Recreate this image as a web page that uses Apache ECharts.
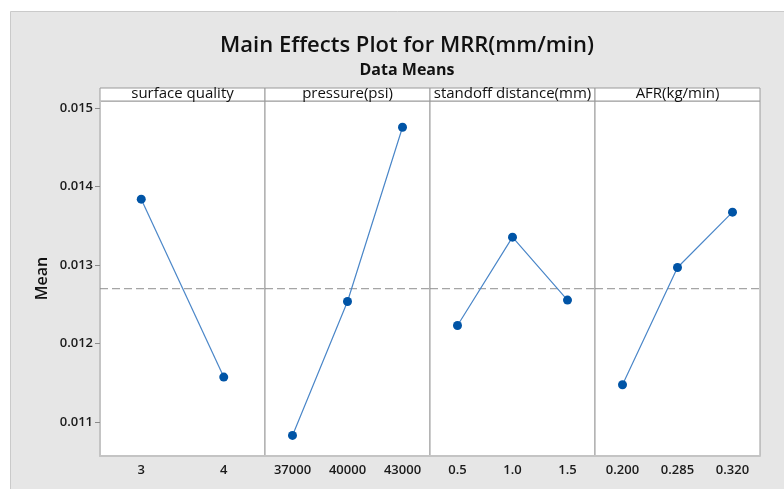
<!DOCTYPE html>
<html>
<head>
<meta charset="utf-8">
<title>Main Effects Plot for MRR(mm/min)</title>
<script src="https://cdn.jsdelivr.net/npm/echarts@6/dist/echarts.min.js"></script>
<style>
  html, body { margin: 0; padding: 0; background: #fff; }
  #chart { width: 784px; height: 489px; }
</style>
</head>
<body>
<div id="chart"></div>
<script>
  // factor names (panel headers)
  var factors = ['surface quality', 'pressure(psi)', 'standoff distance(mm)', 'AFR(kg/min)'];

  // levels of each factor
  var surfaceLevels = ['3', '4'];
  var pressureLevels = ['37000', '40000', '43000'];
  var standoffLevels = ['0.5', '1.0', '1.5'];
  var afrLevels = ['0.200', '0.285', '0.320'];

  // mean MRR at each level
  var surfaceMeans = [0.01384, 0.011575];
  var pressureMeans = [0.010833, 0.012537, 0.014755];
  var standoffMeans = [0.012232, 0.013356, 0.012555];
  var afrMeans = [0.011478, 0.01297, 0.013674];

  var grandMean = 0.0127;
  var yTicks = [0.011, 0.012, 0.013, 0.014, 0.015];
  var yMin = 0.010571;
  var yMax = 0.015089;

  var levels = [surfaceLevels, pressureLevels, standoffLevels, afrLevels];
  var means = [surfaceMeans, pressureMeans, standoffMeans, afrMeans];

  var font = 'Open Sans';
  var panelLeft = 100;
  var panelW = 165;
  var plotTop = 101;
  var headerH = 13;
  var plotBottom = 33;

  var grids = [], xAxes = [], yAxes = [], series = [], graphics = [];
  var refAxes = [], refSeries = [];

  // grey frame round the whole graph
  graphics.push({
    type: 'rect',
    shape: { x: 10.5, y: 11.5, width: 790, height: 490 },
    style: { fill: '#e6e6e6', stroke: '#cacaca', lineWidth: 1 },
    silent: true, z: -10
  });

  factors.forEach(function(name, i){
    var left = panelLeft + i * panelW;
    grids.push({
      left: left, top: plotTop, width: panelW, bottom: plotBottom,
      show: true, backgroundColor: '#fff',
      borderColor: '#9a9a9a', borderWidth: 1
    });
    xAxes.push({
      type: 'category', gridIndex: i,
      data: levels[i],
      boundaryGap: true,
      axisLine: { lineStyle: { color: '#c4c4c4', width: 2 } },
      axisTick: { alignWithLabel: true, length: 5, lineStyle: { color: '#8a8a8a' } },
      axisLabel: { color: '#1a1a1a', fontFamily: font, fontSize: 13, fontWeight: 600, margin: 8 },
      splitLine: { show: false }
    });
    // hidden 0..1 axis, only used to run the grand mean line across the panel
    refAxes.push({
      type: 'value', gridIndex: i, min: 0, max: 1, show: false
    });
    yAxes.push({
      type: 'value', gridIndex: i,
      min: yMin, max: yMax,
      show: i === 0,
      name: i === 0 ? 'Mean' : '',
      nameLocation: 'middle',
      nameGap: 50,
      nameTextStyle: { color: '#111', fontFamily: font, fontSize: 16, fontWeight: 600 },
      axisLine: { show: true, lineStyle: { color: '#c4c4c4', width: 2 } },
      axisTick: { show: true, length: 5, customValues: yTicks, lineStyle: { color: '#8a8a8a' } },
      axisLabel: {
        customValues: yTicks, color: '#1a1a1a', fontFamily: font, fontSize: 13, fontWeight: 600, margin: 7,
        formatter: function(v){ return v.toFixed(3); }
      },
      splitLine: { show: false }
    });
    refSeries.push({
      type: 'line', xAxisIndex: factors.length + i, yAxisIndex: i,
      data: [[0, grandMean], [1, grandMean]],
      symbol: 'none', silent: true, z: 1,
      lineStyle: { color: '#8f8f8f', type: [8, 4], width: 1 }
    });
    series.push({
      type: 'line', xAxisIndex: i, yAxisIndex: i,
      data: means[i],
      symbol: 'circle', symbolSize: 9,
      itemStyle: { color: '#0054a6' },
      lineStyle: { color: '#4a86c8', width: 1.2 },
      z: 3
    });
    // header strip above each panel
    graphics.push({
      type: 'rect',
      shape: { x: left, y: plotTop - headerH, width: panelW, height: headerH },
      style: { fill: '#fff', stroke: '#9a9a9a', lineWidth: 1 },
      silent: true
    });
    graphics.push({
      type: 'text',
      x: left + panelW / 2, y: plotTop - headerH / 2 - 0.5,
      style: {
        text: name, fill: '#111', font: '15px "' + font + '"',
        textAlign: 'center', textVerticalAlign: 'middle'
      },
      silent: true
    });
  });

  var chart = echarts.init(document.getElementById('chart'), null, { renderer: 'canvas' });
  chart.setOption({
    backgroundColor: '#fff',
    animation: false,
    title: [
      {
        text: 'Main Effects Plot for MRR(mm/min)',
        left: 402, top: 30, textAlign: 'center',
        textStyle: { fontFamily: font, fontSize: 22, fontWeight: 600, color: '#111' }
      },
      {
        text: 'Data Means',
        left: 402, top: 57, textAlign: 'center',
        textStyle: { fontFamily: font, fontSize: 16, fontWeight: 'bold', color: '#111' }
      }
    ],
    grid: grids,
    xAxis: xAxes.concat(refAxes),
    yAxis: yAxes,
    series: refSeries.concat(series),
    graphic: graphics
  });
</script>
</body>
</html>
